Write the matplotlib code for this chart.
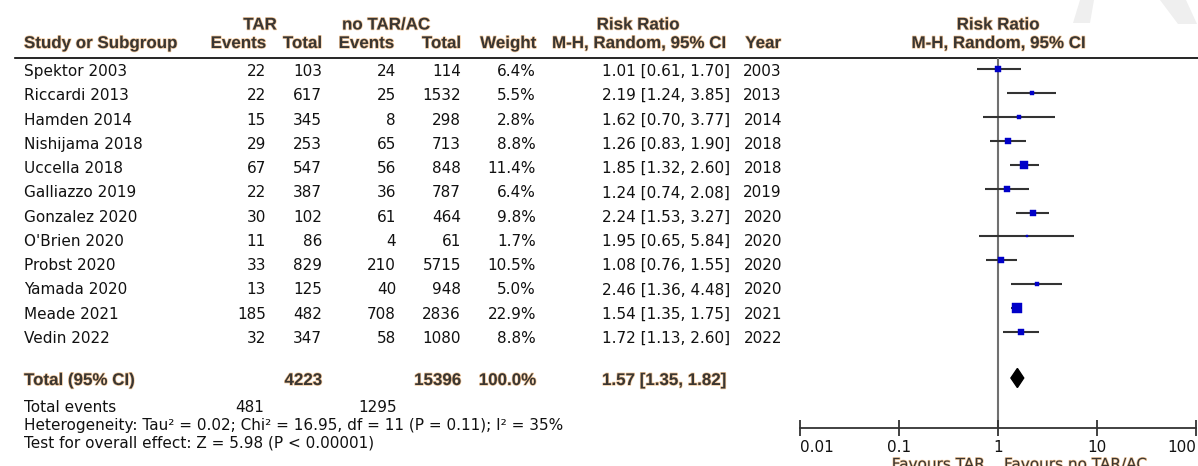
import matplotlib
matplotlib.use("Agg")
import matplotlib.pyplot as plt
import matplotlib.patheffects as pe
import numpy as np

# data
studies = ["Spektor 2003", "Riccardi 2013", "Hamden 2014", "Nishijama 2018", "Uccella 2018",
           "Galliazzo 2019", "Gonzalez 2020", "O'Brien 2020", "Probst 2020", "Yamada 2020",
           "Meade 2021", "Vedin 2022"]
tar_events = [22, 22, 15, 29, 67, 22, 30, 11, 33, 13, 185, 32]
tar_total = [103, 617, 345, 253, 547, 387, 102, 86, 829, 125, 482, 347]
ctl_events = [24, 25, 8, 65, 56, 36, 61, 4, 210, 40, 708, 58]
ctl_total = [114, 1532, 298, 713, 848, 787, 464, 61, 5715, 948, 2836, 1080]
weight = [6.4, 5.5, 2.8, 8.8, 11.4, 6.4, 9.8, 1.7, 10.5, 5.0, 22.9, 8.8]
rr = [1.01, 2.19, 1.62, 1.26, 1.85, 1.24, 2.24, 1.95, 1.08, 2.46, 1.54, 1.72]
rr_lo = [0.61, 1.24, 0.70, 0.83, 1.32, 0.74, 1.53, 0.65, 0.76, 1.36, 1.35, 1.13]
rr_hi = [1.70, 3.85, 3.77, 1.90, 2.60, 2.08, 3.27, 5.84, 1.55, 4.48, 1.75, 2.60]
years = [2003, 2013, 2014, 2018, 2018, 2019, 2020, 2020, 2020, 2020, 2021, 2022]

total_tar, total_ctl = 4223, 15396
pooled = [1.57, 1.35, 1.82]
events_tar, events_ctl = 481, 1295
het_text = "Heterogeneity: Tau\u00b2 = 0.02; Chi\u00b2 = 16.95, df = 11 (P = 0.11); I\u00b2 = 35%"
test_text = "Test for overall effect: Z = 5.98 (P < 0.00001)"
ticks = [0.01, 0.1, 1, 10, 100]
tick_labels = ["0.01", "0.1", "1", "10", "100"]

W, H = 1198, 466
fig = plt.figure(figsize=(W / 100, H / 100), dpi=100)

# table part, in pixel coordinates
ax = fig.add_axes([0, 0, 1, 1])
ax.set_xlim(0, W)
ax.set_ylim(H, 0)
ax.axis("off")

body = dict(family=["DejaVu Sans"], fontsize=11.0, color="#111111", va="baseline")
hcol = "#3a3632"
hfx = [pe.withStroke(linewidth=1.0, foreground="#f2c79a")]
bold = dict(family=["Liberation Sans", "DejaVu Sans"], fontsize=12.2, fontweight="bold",
            color=hcol, va="baseline", path_effects=hfx)

def txt(x, y, s, ha="right"):
    ax.text(x, y, s, ha=ha, **body)

def head(x, y, s, ha="right"):
    ax.text(x, y, s, ha=ha, **bold)

# faint watermark shapes in the top right corner
ax.fill([1080, 1094, 1090, 1073], [0, 0, 23, 23], color="#efefef", lw=0, zorder=0)
ax.fill([1160, 1186, 1197, 1178], [0, 0, 24, 24], color="#efefef", lw=0, zorder=0)

head(260, 29.5, "TAR", "center")
head(386, 29.5, "no TAR/AC", "center")
head(638, 29.5, "Risk Ratio", "center")
head(998, 29.5, "Risk Ratio", "center")
head(24, 48, "Study or Subgroup", "left")
head(266, 48, "Events")
head(322, 48, "Total")
head(394, 48, "Events")
head(461, 48, "Total")
head(536, 48, "Weight")
head(725, 48, "M-H, Random, 95% CI")
head(781, 48, "Year")
head(998, 48, "M-H, Random, 95% CI", "center")
ax.plot([15, W], [58, 58], color="black", lw=1.2)

base0, tstep = 76, 24.27
for i in range(len(studies)):
    yb = base0 + tstep * i
    txt(24, yb, studies[i], "left")
    txt(266, yb, str(tar_events[i]))
    txt(322, yb, str(tar_total[i]))
    txt(396, yb, str(ctl_events[i]))
    txt(461, yb, str(ctl_total[i]))
    txt(536, yb, f"{weight[i]:.1f}%")
    txt(730, yb, f"{rr[i]:.2f} [{rr_lo[i]:.2f}, {rr_hi[i]:.2f}]")
    txt(782, yb, str(years[i]))

ytot = 385
head(24, ytot, "Total (95% CI)", "left")
head(322, ytot, str(total_tar))
head(461, ytot, str(total_ctl))
head(536, ytot, "100.0%")
head(726, ytot, f"{pooled[0]:.2f} [{pooled[1]:.2f}, {pooled[2]:.2f}]")

txt(24, 412, "Total events", "left")
txt(264, 412, str(events_tar))
txt(397, 412, str(events_ctl))
txt(24, 430, het_text, "left")
txt(24, 447.5, test_text, "left")

fav = dict(body)
fav.update(color=hcol, path_effects=hfx)
ax.text(985, 469, "Favours TAR", ha="right", **fav)
ax.text(1004, 469, "Favours no TAR/AC", ha="left", **fav)

# forest part, log scale
top_px, axis_px = 58, 428
row0, mstep = 69.3, 23.88
fx = fig.add_axes([800 / W, (H - axis_px) / H, 396 / W, (axis_px - top_px) / H])
fx.patch.set_alpha(0)
fx.set_xscale("log")
fx.set_xlim(0.01, 100)
fx.set_ylim((axis_px - row0) / mstep, (top_px - row0) / mstep)
for s in ["top", "left", "right"]:
    fx.spines[s].set_visible(False)
fx.spines["bottom"].set_color("#333333")
fx.spines["bottom"].set_linewidth(1.3)
fx.set_yticks([])
fx.set_xticks(ticks)
fx.set_xticklabels(tick_labels, family=["DejaVu Sans"], fontsize=11.0, color="#111111")
fx.xaxis.set_minor_locator(matplotlib.ticker.NullLocator())
fx.tick_params(axis="x", direction="inout", length=12, width=1.3, color="#333333", pad=3)
lbls = fx.get_xticklabels()
lbls[0].set_ha("left")
lbls[-1].set_ha("right")

fx.axvline(1, color="#707070", lw=1.5, zorder=1)
ys = np.arange(len(studies))
fx.hlines(ys, rr_lo, rr_hi, color="#333333", lw=1.5, zorder=2)
for i in range(len(studies)):
    side = 2.1 * np.sqrt(weight[i]) * 0.72
    fx.plot(rr[i], ys[i], marker="s", ms=side, color="#0000c8", mec="#0000c8", mew=0.3, zorder=3)

ytot_row = (378 - row0) / mstep
fx.fill([pooled[1], pooled[0], pooled[2], pooled[0]],
        [ytot_row, ytot_row - 0.4, ytot_row, ytot_row + 0.4], color="black", zorder=3)

fig.savefig("out.png", dpi=100)
